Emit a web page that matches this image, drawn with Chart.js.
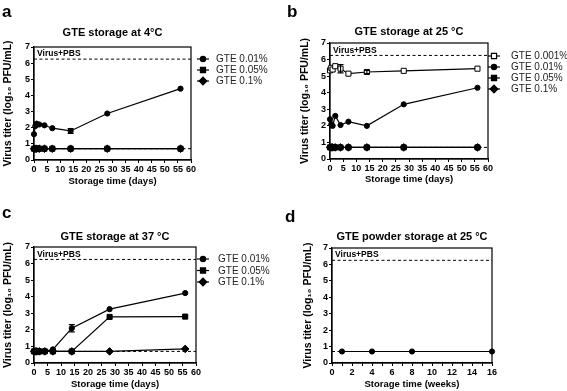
<!DOCTYPE html>
<html>
<head>
<meta charset="utf-8">
<script src="https://cdn.jsdelivr.net/npm/chart.js@4.4.1/dist/chart.umd.min.js"></script>
<style>
  body { margin: 0; background: #fff; }
  #wrap { position: relative; width: 567px; height: 391px; overflow: hidden; font-family: "Liberation Sans", Arial, sans-serif; }
  canvas { position: absolute; }
  .tag { position: absolute; font-weight: bold; font-size: 17px; line-height: 17px; }
</style>
</head>
<body>
<div id="wrap">
  <canvas id="pa" width="283" height="195" style="left:0;top:0"></canvas>
  <canvas id="pb" width="284" height="195" style="left:283px;top:0"></canvas>
  <canvas id="pc" width="283" height="196" style="left:0;top:195px"></canvas>
  <canvas id="pd" width="284" height="196" style="left:283px;top:195px"></canvas>
  <div class="tag" style="left:2px;top:3px">a</div>
  <div class="tag" style="left:287px;top:3px">b</div>
  <div class="tag" style="left:2px;top:204px">c</div>
  <div class="tag" style="left:285px;top:208px">d</div>
</div>
<script>
// sampling times
const days = [0, 0.5, 1, 2, 4, 7, 14, 28, 56];
const weeks = [1, 4, 8, 16];

// reference levels
const virusPBS = 6.25;
const detectLimit = 0.7;

// a: 4 °C
const a001 = [1.6, 2.1, 2.25, 2.2, 2.15, 1.97, 1.8, 2.88, 4.42];
const a001Err = [0, 0, 0, 0, 0, 0, 0.15, 0, 0];
const a005 = [0.7, 0.7, 0.7, 0.7, 0.7, 0.7, 0.7, 0.7, 0.7];
const a01 = [0.7, 0.7, 0.7, 0.7, 0.7, 0.7, 0.7, 0.7, 0.7];

// b: 25 °C
const b0001 = [5.35, 5.5, 5.4, 5.6, 5.45, 5.15, 5.25, 5.32, 5.45];
const b0001Err = [0, 0, 0, 0, 0.25, 0, 0.1, 0, 0];
const b001 = [2.4, 2.1, 2.0, 2.6, 2.05, 2.25, 2.0, 3.3, 4.3];
const b005 = [0.7, 0.7, 0.7, 0.7, 0.7, 0.7, 0.7, 0.7, 0.7];
const b01 = [0.7, 0.7, 0.7, 0.7, 0.7, 0.7, 0.7, 0.7, 0.7];

// c: 37 °C
const c001 = [0.7, 0.7, 0.7, 0.7, 0.7, 0.82, 2.1, 3.25, 4.22];
const c001Err = [0, 0, 0, 0, 0, 0, 0.22, 0, 0];
const c005 = [0.7, 0.7, 0.7, 0.7, 0.7, 0.7, 0.7, 2.78, 2.8];
const c01 = [0.7, 0.7, 0.7, 0.7, 0.7, 0.7, 0.7, 0.7, 0.85];

// d: powder at 25 °C
const dPowder = [0.7, 0.7, 0.7, 0.7];

const FONT = '"Liberation Sans", Arial, sans-serif';
Chart.defaults.font.family = FONT;
Chart.defaults.color = '#000';

const radii = { circle: 2.6, rect: 3.6, rectRot: 3.8 };

function series(label, xs, ys, style, extra) {
  return Object.assign({
    label: label,
    data: xs.map((x, i) => ({ x: x, y: ys[i] })),
    borderColor: '#000',
    borderWidth: 1.2,
    pointStyle: style,
    pointRadius: radii[style],
    pointBackgroundColor: '#000',
    pointBorderColor: '#000',
    pointBorderWidth: 1,
    clip: false,
    order: 1
  }, extra || {});
}

function refLine(level, xMax) {
  return {
    data: [{ x: 0, y: level }, { x: xMax, y: level }],
    borderColor: '#000',
    borderWidth: 1,
    borderDash: [3, 2.5],
    pointRadius: 0,
    clip: false,
    order: 10
  };
}

const framePlugin = {
  id: 'frame',
  beforeDatasetsDraw(chart) {
    const { ctx, chartArea: a } = chart;
    ctx.save();
    ctx.strokeStyle = '#000';
    ctx.lineWidth = 1.2;
    ctx.strokeRect(a.left, a.top, a.right - a.left, a.bottom - a.top);
    ctx.font = 'bold 8.5px ' + FONT;
    ctx.fillStyle = '#000';
    ctx.textBaseline = 'bottom';
    ctx.fillText('Virus+PBS', a.left + 3, chart.scales.y.getPixelForValue(virusPBS) - 1);
    ctx.restore();
  }
};

const errorBars = {
  id: 'errorBars',
  afterDatasetsDraw(chart) {
    const ctx = chart.ctx, ys = chart.scales.y;
    chart.data.datasets.forEach((ds, i) => {
      if (!ds.errs) return;
      chart.getDatasetMeta(i).data.forEach((pt, j) => {
        const e = ds.errs[j];
        if (!e) return;
        const v = ds.data[j].y;
        const t = ys.getPixelForValue(v + e), b = ys.getPixelForValue(v - e);
        ctx.save();
        ctx.strokeStyle = '#000';
        ctx.lineWidth = 1.2;
        ctx.beginPath();
        ctx.moveTo(pt.x, t); ctx.lineTo(pt.x, b);
        ctx.moveTo(pt.x - 3, t); ctx.lineTo(pt.x + 3, t);
        ctx.moveTo(pt.x - 3, b); ctx.lineTo(pt.x + 3, b);
        ctx.stroke();
        ctx.restore();
      });
    });
  }
};

const sideLegend = {
  id: 'sideLegend',
  afterDraw(chart, args, opts) {
    if (!opts.show) return;
    const ctx = chart.ctx;
    chart.data.datasets.filter(d => d.label).forEach((ds, k) => {
      const x = opts.x, y = opts.y + k * opts.dy;
      ctx.save();
      ctx.strokeStyle = '#000';
      ctx.lineWidth = 1.2;
      ctx.beginPath();
      ctx.moveTo(x - 6, y); ctx.lineTo(x + 6, y);
      ctx.stroke();
      ctx.fillStyle = ds.pointBackgroundColor;
      Chart.helpers.drawPoint(ctx, { pointStyle: ds.pointStyle, radius: ds.pointRadius, rotation: 0, borderWidth: 1 }, x, y);
      ctx.fillStyle = '#222';
      ctx.font = '10px ' + FONT;
      ctx.textBaseline = 'middle';
      ctx.fillText(ds.label, x + opts.gap, y + 0.5);
      ctx.restore();
    });
  }
};

function makePanel(id, g) {
  const canvas = document.getElementById(id);
  const W = canvas.width, H = canvas.height;
  new Chart(canvas, {
    type: 'line',
    data: { datasets: g.datasets },
    options: {
      responsive: false,
      animation: false,
      layout: { padding: { left: 0, right: W - g.plotR, top: 0, bottom: H - (g.xTitleY + 6) } },
      plugins: {
        legend: { display: false },
        tooltip: { enabled: false },
        title: {
          display: true,
          text: g.title,
          fullSize: false,
          font: { size: 11, weight: 'bold' },
          padding: { top: g.titleY - 6.6, bottom: g.plotT - g.titleY - 6.6 }
        },
        sideLegend: g.legend
      },
      scales: {
        x: {
          type: 'linear',
          min: 0,
          max: g.xMax,
          afterFit: s => { s.height = g.xTitleY + 6 - g.plotB; },
          border: { color: '#000', width: 1.2 },
          grid: { drawOnChartArea: false, tickLength: 3, color: '#000' },
          ticks: {
            stepSize: g.xStep,
            autoSkip: false,
            maxRotation: 0,
            padding: 1,
            font: { size: 9, weight: 'bold' },
            callback: g.xLabel || (v => v)
          },
          title: { display: true, text: g.xTitle, padding: 0, font: { size: 9.5, weight: 'bold' } }
        },
        y: {
          min: 0,
          max: 7,
          afterFit: s => { s.width = g.plotL; },
          border: { color: '#000', width: 1.2 },
          grid: { drawOnChartArea: false, tickLength: 3, color: '#000' },
          ticks: { stepSize: 1, padding: 1, font: { size: 9, weight: 'bold' } },
          title: {
            display: true,
            text: 'Virus titer (log\u2081\u2080 PFU/mL)',
            padding: { top: g.yTitleX - 6.3, bottom: 0 },
            font: { size: 10.5, weight: 'bold' }
          }
        }
      }
    },
    plugins: [framePlugin, errorBars, sideLegend]
  });
}

makePanel('pa', {
  title: 'GTE storage at 4\u00b0C', xMax: 60, xStep: 5, xTitle: 'Storage time (days)',
  plotL: 34, plotR: 191, plotT: 47, plotB: 160, titleY: 33, xTitleY: 181, yTitleX: 8,
  legend: { show: true, x: 203, y: 59, dy: 11, gap: 13 },
  datasets: [
    series('GTE 0.01%', days, a001, 'circle', { errs: a001Err }),
    series('GTE 0.05%', days, a005, 'rect'),
    series('GTE 0.1%', days, a01, 'rectRot'),
    refLine(virusPBS, 60),
    refLine(detectLimit, 60)
  ]
});

makePanel('pb', {
  title: 'GTE storage at 25 \u00b0C', xMax: 60, xStep: 5, xTitle: 'Storage time (days)',
  plotL: 47, plotR: 205, plotT: 43, plotB: 159, titleY: 32, xTitleY: 179, yTitleX: 22,
  legend: { show: true, x: 211, y: 56, dy: 11, gap: 17 },
  datasets: [
    series('GTE 0.001%', days, b0001, 'rect', { pointBackgroundColor: '#fff', errs: b0001Err }),
    series('GTE 0.01%', days, b001, 'circle'),
    series('GTE 0.05%', days, b005, 'rect'),
    series('GTE 0.1%', days, b01, 'rectRot'),
    refLine(virusPBS, 60),
    refLine(detectLimit, 60)
  ]
});

makePanel('pc', {
  title: 'GTE storage at 37 \u00b0C', xMax: 60, xStep: 5, xTitle: 'Storage time (days)',
  plotL: 34, plotR: 196, plotT: 52, plotB: 168, titleY: 42, xTitleY: 189, yTitleX: 8,
  legend: { show: true, x: 203, y: 64, dy: 11.5, gap: 15 },
  datasets: [
    series('GTE 0.01%', days, c001, 'circle', { errs: c001Err }),
    series('GTE 0.05%', days, c005, 'rect'),
    series('GTE 0.1%', days, c01, 'rectRot'),
    refLine(virusPBS, 60),
    refLine(detectLimit, 60)
  ]
});

makePanel('pd', {
  title: 'GTE powder storage at 25 \u00b0C', xMax: 16, xStep: 1, xTitle: 'Storage time (weeks)',
  xLabel: v => (v % 2 === 0 ? v : ''),
  plotL: 49, plotR: 209, plotT: 53, plotB: 168, titleY: 42, xTitleY: 189, yTitleX: 25,
  legend: { show: false },
  datasets: [
    series('GTE powder', weeks, dPowder, 'circle'),
    refLine(virusPBS, 16),
    refLine(detectLimit, 16)
  ]
});
</script>
</body>
</html>
